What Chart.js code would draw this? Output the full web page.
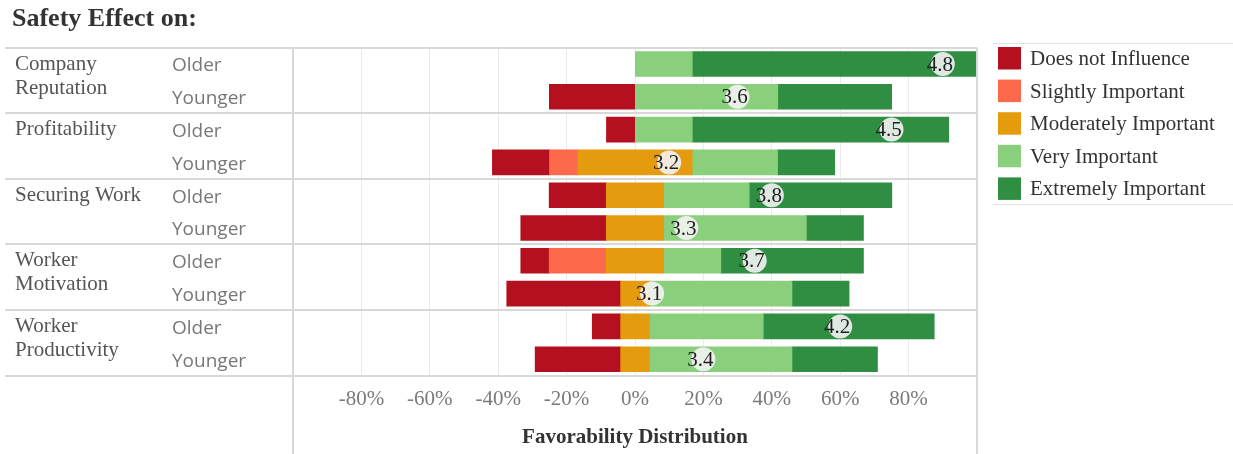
<!DOCTYPE html>
<html>
<head>
<meta charset="utf-8">
<script src="https://cdn.jsdelivr.net/npm/chart.js@4.4.1/dist/chart.umd.min.js"></script>
<style>
  html, body { margin: 0; padding: 0; background: #fff; }
  #wrap { position: relative; width: 1233px; height: 454px; }
</style>
</head>
<body>
<div id="wrap"><canvas id="chart"></canvas></div>
<script>
// ---- data -----------------------------------------------------------
const chartTitle = 'Safety Effect on:';
const axisTitle = 'Favorability Distribution';
const topics = [
  ['Company', 'Reputation'],
  ['Profitability'],
  ['Securing Work'],
  ['Worker', 'Motivation'],
  ['Worker', 'Productivity']
];
const rowLabels = ['Older', 'Younger', 'Older', 'Younger', 'Older', 'Younger',
                   'Older', 'Younger', 'Older', 'Younger'];

// share of answers (%) per row
const doesNotInfluence    = [0, 25, 8.3, 16.7, 16.7, 25, 8.3, 33.3, 8.3, 25];
const slightlyImportant   = [0, 0, 0, 8.3, 0, 0, 16.7, 0, 0, 0];
const moderatelyImportant = [0, 0, 0, 33.3, 16.7, 16.7, 16.7, 8.3, 8.3, 8.3];
const veryImportant       = [16.7, 41.7, 16.7, 25, 25, 41.7, 16.7, 41.7, 33.3, 41.7];
const extremelyImportant  = [83.3, 33.3, 75, 16.7, 41.7, 16.7, 41.7, 16.7, 50, 25];

// average rating on the 1-5 scale
const meanScores = [4.8, 3.6, 4.5, 3.2, 3.8, 3.3, 3.7, 3.1, 4.2, 3.4];

const tickValues = [-80, -60, -40, -20, 0, 20, 40, 60, 80];

const responseLevels = ['Does not Influence', 'Slightly Important', 'Moderately Important',
                        'Very Important', 'Extremely Important'];
const responseColors = ['#b5101f', '#fd6a4b', '#e59b0e', '#8acf7b', '#2f8e42'];

// ---- helpers --------------------------------------------------------
const SERIF = 'Liberation Serif';
// empty segments are left out so they leave no sliver
const negate = a => a.map(v => (v ? -v : null));
const keep = a => a.map(v => (v ? v : null));
const halve = a => a.map(v => v / 2);

function barSet(label, data, color) {
  return {
    type: 'bar', label, data,
    indexAxis: 'y', xAxisID: 'x', yAxisID: 'y', stack: 'likert', grouped: false,
    backgroundColor: color, borderWidth: 0, inflateAmount: 0.5,
    barPercentage: 0.75, categoryPercentage: 1
  };
}

// Moderately Important is split evenly around 0%
const datasets = [
  {
    type: 'scatter', label: 'Mean',
    data: meanScores.map((m, i) => ({ x: m, y: i })),
    xAxisID: 'xMean', yAxisID: 'y',
    pointRadius: 12, pointHoverRadius: 12,
    backgroundColor: 'rgba(243,243,243,0.9)', borderWidth: 0,
    order: -1
  },
  barSet(responseLevels[2], negate(halve(moderatelyImportant)), responseColors[2]),
  barSet(responseLevels[1], negate(slightlyImportant), responseColors[1]),
  barSet(responseLevels[0], negate(doesNotInfluence), responseColors[0]),
  barSet(responseLevels[2], keep(halve(moderatelyImportant)), responseColors[2]),
  barSet(responseLevels[3], keep(veryImportant), responseColors[3]),
  barSet(responseLevels[4], keep(extremelyImportant), responseColors[4])
];

// frame lines, topic names, title, legend and mean labels
const decorations = {
  id: 'decorations',
  afterDraw(chart) {
    const { ctx, chartArea: a, scales: { y } } = chart;
    const H = chart.height;
    const rowH = y.getPixelForValue(1) - y.getPixelForValue(0);
    ctx.save();

    // topic separators
    ctx.strokeStyle = '#d8d8d8';
    ctx.lineWidth = 2;
    for (let t = 0; t <= topics.length; t++) {
      const yy = Math.round(y.getPixelForValue(t * 2) - rowH / 2);
      ctx.beginPath(); ctx.moveTo(5, yy); ctx.lineTo(a.right, yy); ctx.stroke();
    }
    // vertical borders of the bar panel
    ctx.beginPath();
    ctx.moveTo(a.left, a.top); ctx.lineTo(a.left, H);
    ctx.moveTo(a.right, a.top); ctx.lineTo(a.right, H);
    ctx.stroke();

    // topic names
    ctx.fillStyle = '#555';
    ctx.font = `21px "${SERIF}"`;
    ctx.textAlign = 'left';
    ctx.textBaseline = 'middle';
    topics.forEach((lines, t) => {
      const y0 = y.getPixelForValue(t * 2);
      lines.forEach((ln, k) => ctx.fillText(ln, 15, y0 + k * 24));
    });

    // title
    ctx.fillStyle = '#333';
    ctx.font = `bold 26px "${SERIF}"`;
    ctx.textBaseline = 'alphabetic';
    ctx.fillText(chartTitle, 12, 26);

    // legend
    const lx = 998, ly = 47, step = 32.6;
    ctx.strokeStyle = '#e2e2e2';
    ctx.lineWidth = 1;
    ctx.beginPath();
    ctx.moveTo(993, 43.5); ctx.lineTo(1233, 43.5);
    ctx.moveTo(993, 204.5); ctx.lineTo(1233, 204.5);
    ctx.stroke();
    ctx.font = `21px "${SERIF}"`;
    ctx.textBaseline = 'middle';
    responseLevels.forEach((name, i) => {
      const top = ly + i * step;
      ctx.fillStyle = responseColors[i];
      ctx.fillRect(lx, top, 23, 22.5);
      ctx.fillStyle = '#333';
      ctx.fillText(name, 1030, top + 12.5);
    });

    // mean labels on their markers
    const meta = chart.getDatasetMeta(0);
    ctx.fillStyle = '#1e1e1e';
    ctx.font = `21px "${SERIF}"`;
    ctx.textAlign = 'center';
    meta.data.forEach((pt, i) => ctx.fillText(meanScores[i].toFixed(1), pt.x - 3, pt.y + 1));

    ctx.restore();
  }
};

new Chart(document.getElementById('chart'), {
  type: 'bar',
  data: { labels: rowLabels, datasets },
  options: {
    responsive: true,
    maintainAspectRatio: false,
    animation: false,
    events: [],
    layout: { padding: { top: 47.6, left: 172, right: 256, bottom: 0 } },
    plugins: { legend: { display: false }, title: { display: false }, tooltip: { enabled: false } },
    scales: {
      x: {
        type: 'linear', position: 'bottom', min: -100, max: 100, stacked: true, offset: false,
        afterBuildTicks: s => { s.ticks = tickValues.map(v => ({ value: v })); },
        afterFit: s => { s.height = 78.4; },
        grid: { color: '#ebebeb', lineWidth: 1, drawTicks: false, offset: false },
        border: { display: false },
        ticks: {
          callback: v => v + '%', padding: 11, maxRotation: 0, autoSkip: false,
          color: '#7a7a7a', font: { family: SERIF, size: 21 }
        },
        title: {
          display: true, text: axisTitle, color: '#333',
          font: { family: SERIF, size: 21, weight: 'bold' },
          padding: { top: 0, bottom: 4 }
        }
      },
      xMean: { type: 'linear', position: 'bottom', display: false, offset: false, min: 1, max: 5 },
      y: {
        type: 'category', position: 'left', offset: true,
        afterFit: s => { s.width = 121; },
        grid: { display: false },
        border: { display: false },
        ticks: { crossAlign: 'far', labelOffset: 2, color: '#777', font: { family: 'Open Sans', size: 19 } }
      }
    }
  },
  plugins: [decorations]
});
</script>
</body>
</html>
